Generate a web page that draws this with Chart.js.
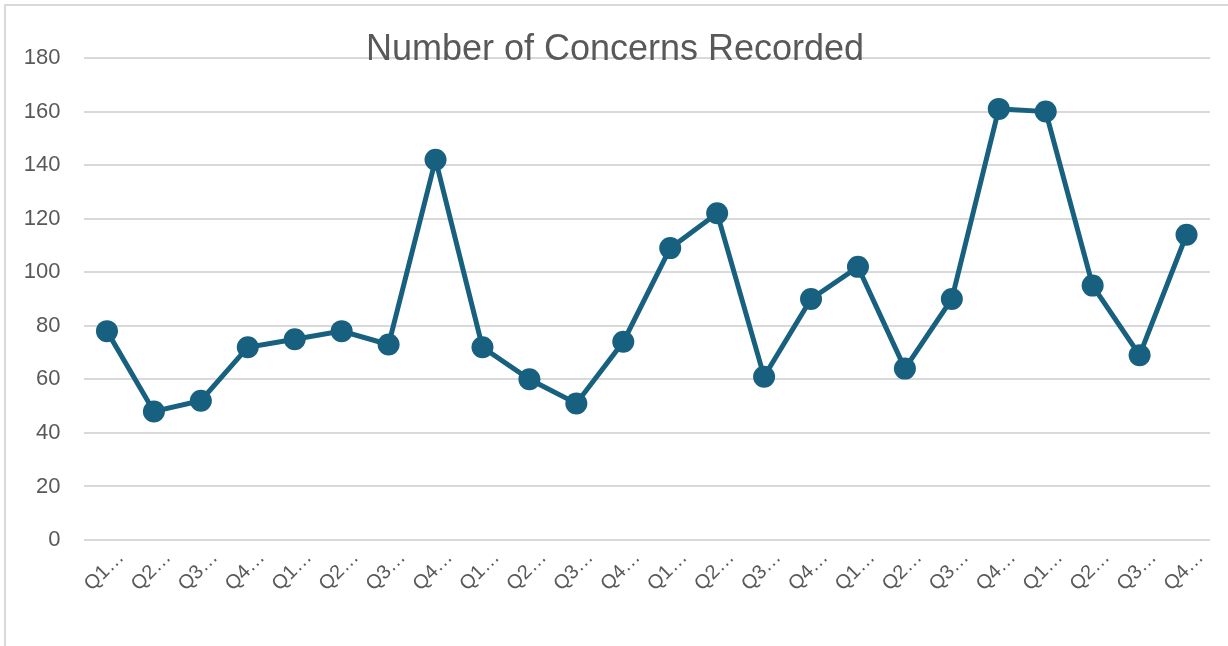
<!DOCTYPE html>
<html>
<head>
<meta charset="utf-8">
<script src="https://cdn.jsdelivr.net/npm/chart.js@4.4.1/dist/chart.umd.min.js"></script>
<style>
  html, body { margin: 0; padding: 0; background: #ffffff; overflow: hidden; }
  #wrap { position: relative; width: 1228px; height: 646px; }
  #frame { position: absolute; left: 4px; top: 4px; width: 1300px; height: 700px;
           border-left: 2px solid #d9d9d9; border-top: 2px solid #d9d9d9; box-sizing: border-box; pointer-events: none; }
  canvas { position: absolute; left: 0; top: 0; }
</style>
</head>
<body>
<div id="wrap">
  <canvas id="c" width="1228" height="646"></canvas>
  <div id="frame"></div>
</div>
<script>
const titleText = "Number of Concerns Recorded";
const categories = [
  "Q1…","Q2…","Q3…","Q4…",
  "Q1…","Q2…","Q3…","Q4…",
  "Q1…","Q2…","Q3…","Q4…",
  "Q1…","Q2…","Q3…","Q4…",
  "Q1…","Q2…","Q3…","Q4…",
  "Q1…","Q2…","Q3…","Q4…"
];
const concerns = [78, 48, 52, 72, 75, 78, 73, 142, 72, 60, 51, 74, 109, 122, 61, 90, 102, 64, 90, 161, 160, 95, 69, 114];
const yMin = 0, yMax = 180, yStep = 20;

const textColor = "#595959";
const gridColor = "#d9d9d9";
const lineColor = "#17607f";
const fontFamily = "'Liberation Sans', Arial, sans-serif";

const layoutPad = { left: 20, right: 18, top: 0, bottom: 0 };

new Chart(document.getElementById("c"), {
  type: "line",
  data: {
    labels: categories,
    datasets: [{
      label: "Concerns",
      data: concerns,
      borderColor: lineColor,
      backgroundColor: lineColor,
      borderWidth: 5,
      pointRadius: 11,
      pointHoverRadius: 11,
      pointBackgroundColor: lineColor,
      pointBorderColor: lineColor,
      pointBorderWidth: 0,
      tension: 0,
      fill: false
    }]
  },
  options: {
    responsive: false,
    animation: false,
    devicePixelRatio: 1,
    layout: { padding: layoutPad },
    plugins: {
      legend: { display: false },
      tooltip: { enabled: false },
      title: {
        display: true,
        text: titleText,
        color: textColor,
        font: { family: fontFamily, size: 36, weight: "normal", lineHeight: 1.2 },
        padding: { top: 28, bottom: -13.2 }
      }
    },
    scales: {
      x: {
        offset: true,
        grid: { display: false, drawTicks: false },
        border: { display: false },
        ticks: {
          color: textColor,
          font: { family: fontFamily, size: 20 },
          maxRotation: 45,
          minRotation: 45,
          autoSkip: false,
          padding: 6,
          labelOffset: 14
        },
        afterFit(scale) { scale.height = 646 - 540 - layoutPad.bottom; }
      },
      y: {
        min: yMin,
        max: yMax,
        grid: { color: gridColor, lineWidth: 2, drawTicks: false },
        border: { display: false },
        ticks: {
          stepSize: yStep,
          color: textColor,
          font: { family: fontFamily, size: 22 },
          padding: 23
        },
        afterFit(scale) { scale.width = 83.5 - layoutPad.left; }
      }
    }
  }
});
</script>
</body>
</html>
